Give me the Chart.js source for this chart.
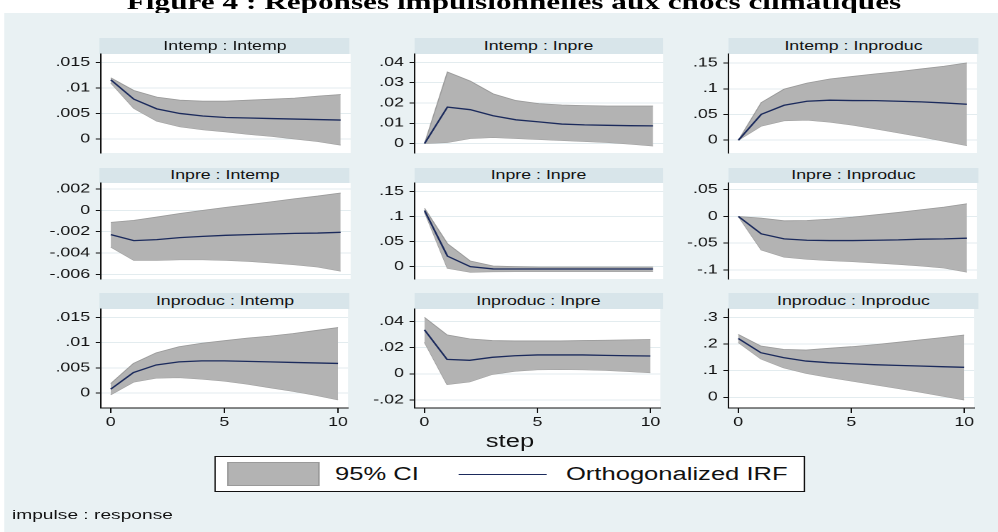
<!DOCTYPE html>
<html><head><meta charset="utf-8">
<script src="https://cdn.jsdelivr.net/npm/chart.js@4.4.1/dist/chart.umd.min.js"></script>
<style>
html,body{margin:0;padding:0;background:#fff;overflow:hidden;width:998px;height:532px;}
#inner{position:absolute;left:0;top:0;height:532px;transform-origin:0 0;}
#inner div,#inner canvas{position:absolute;}
.txt{font-family:"Liberation Sans",Arial,sans-serif;color:#111;white-space:nowrap;}
</style>
</head><body>
<div id="inner"></div>
<script>
// ---------- data ----------
const steps = [0,1,2,3,4,5,6,7,8,9,10];
const xTicks = [0,5,10];

const irf_temp_temp = [0.0116,0.0078,0.0059,0.0050,0.0045,0.0042,0.0041,0.0040,0.0039,0.0038,0.0037];
const hi_temp_temp  = [0.0120,0.0095,0.0082,0.0076,0.0074,0.0074,0.0076,0.0078,0.0080,0.0084,0.0087];
const lo_temp_temp  = [0.0110,0.0060,0.0035,0.0024,0.0018,0.0014,0.0009,0.0005,0.0000,-0.0005,-0.0012];

const irf_temp_pre = [0,0.0180,0.0167,0.0137,0.0117,0.0107,0.0096,0.0092,0.0090,0.0088,0.0087];
const hi_temp_pre  = [0,0.0353,0.0308,0.0245,0.0212,0.0197,0.0190,0.0187,0.0185,0.0185,0.0185];
const lo_temp_pre  = [0,0.0005,0.0025,0.0030,0.0025,0.0020,0.0015,0.0010,0.0005,-0.0003,-0.0012];

const irf_temp_produc = [0,0.0503,0.0680,0.0758,0.0778,0.0771,0.0770,0.0758,0.0745,0.0725,0.0700];
const hi_temp_produc  = [0,0.0732,0.0993,0.1110,0.1190,0.1240,0.1290,0.1333,0.1386,0.1438,0.1503];
const lo_temp_produc  = [0,0.0275,0.0380,0.0392,0.0353,0.0294,0.0222,0.0144,0.0065,-0.0020,-0.0105];

const irf_pre_temp = [-0.00228,-0.00284,-0.00275,-0.00256,-0.00244,-0.00234,-0.00228,-0.00222,-0.00216,-0.00213,-0.00206];
const hi_pre_temp  = [-0.00113,-0.00094,-0.00063,-0.00030,0.00000,0.00028,0.00053,0.00081,0.00109,0.00134,0.00163];
const lo_pre_temp  = [-0.00344,-0.00469,-0.00469,-0.00463,-0.00463,-0.00469,-0.00478,-0.00494,-0.00510,-0.00531,-0.00570];

const irf_pre_pre = [0.1118,0.0210,0.0000,-0.0045,-0.0046,-0.0046,-0.0046,-0.0046,-0.0046,-0.0046,-0.0046];
const hi_pre_pre  = [0.1164,0.0460,0.0112,0.0013,0.0000,-0.0007,-0.0007,-0.0007,-0.0007,-0.0007,-0.0007];
const lo_pre_pre  = [0.1086,-0.0033,-0.0110,-0.0100,-0.0099,-0.0099,-0.0099,-0.0099,-0.0099,-0.0099,-0.0099];

const irf_pre_produc = [0,-0.0325,-0.0419,-0.0444,-0.0450,-0.0450,-0.0444,-0.0438,-0.0425,-0.0419,-0.0406];
const hi_pre_produc  = [0,-0.0031,-0.0081,-0.0075,-0.0050,-0.0013,0.0031,0.0075,0.0125,0.0175,0.0238];
const lo_pre_produc  = [0,-0.0625,-0.0760,-0.0800,-0.0825,-0.0844,-0.0869,-0.0894,-0.0925,-0.0963,-0.1040];

const irf_produc_temp = [0.0008,0.0041,0.0056,0.0062,0.0064,0.0064,0.0063,0.0062,0.0061,0.0060,0.0059];
const hi_produc_temp  = [0.0019,0.0059,0.0080,0.0092,0.0099,0.0104,0.0109,0.0113,0.0118,0.0124,0.0130];
const lo_produc_temp  = [-0.0003,0.0022,0.0030,0.0031,0.0028,0.0024,0.0018,0.0011,0.0004,-0.0004,-0.0013];

const irf_produc_pre = [0.0336,0.0110,0.0103,0.0126,0.0138,0.0144,0.0144,0.0144,0.0141,0.0138,0.0136];
const hi_produc_pre  = [0.0431,0.0297,0.0267,0.0254,0.0251,0.0251,0.0251,0.0254,0.0256,0.0259,0.0262];
const lo_produc_pre  = [0.0241,-0.0082,-0.0062,-0.0005,0.0020,0.0031,0.0033,0.0031,0.0026,0.0018,0.0008];

const irf_produc_produc = [0.221,0.1675,0.149,0.136,0.130,0.126,0.1225,0.120,0.1175,0.115,0.1125];
const hi_produc_produc  = [0.236,0.1925,0.180,0.1775,0.184,0.190,0.1975,0.206,0.215,0.224,0.234];
const lo_produc_produc  = [0.206,0.144,0.111,0.090,0.075,0.061,0.0475,0.034,0.020,0.005,-0.010];

const ticks_temp_temp = [0,0.005,0.01,0.015];
const ticks_temp_pre = [0,0.01,0.02,0.03,0.04];
const ticks_temp_produc = [0,0.05,0.1,0.15];
const ticks_pre_temp = [-0.006,-0.004,-0.002,0,0.002];
const ticks_pre_pre = [0,0.05,0.1,0.15];
const ticks_pre_produc = [-0.1,-0.05,0,0.05];
const ticks_produc_temp = [0,0.005,0.01,0.015];
const ticks_produc_pre = [-0.02,0,0.02,0.04];
const ticks_produc_produc = [0,0.1,0.2,0.3];

const titleText = "Figure 4 : Réponses impulsionnelles aux chocs climatiques";
const xTitle = "step";
const legendLabels = ["95% CI","Orthogonalized IRF"];
const noteText = "impulse : response";

// ---------- layout ----------
const S = 1.42; // horizontal stretch of the original picture
const inner = document.getElementById('inner');
inner.style.width = (998/S)+'px';
inner.style.transform = 'scaleX('+S+')';

const C_BG = '#e9f1f3', C_HEAD = '#d8e5ea', C_BAND = '#b3b3b3', C_BANDLINE = '#9a9a9a', C_IRF = '#1b2a5c';

function el(tag, x, y, w, h, css, text){
  const d = document.createElement(tag);
  d.style.left = (x/S)+'px'; d.style.top = y+'px';
  if (w!=null) d.style.width = (w/S)+'px';
  if (h!=null) d.style.height = h+'px';
  if (css) d.style.cssText += css;
  if (text!=null) d.textContent = text;
  inner.appendChild(d);
  return d;
}

el('div',20,-10,988,24,'font-family:"Liberation Serif","Times New Roman",serif;font-weight:bold;font-size:22px;line-height:24px;text-align:center;color:#000;white-space:nowrap;',titleText);
el('div',4,13,994,519,'background:'+C_BG+';');

const panels = [
 {t:'Intemp : Intemp', irf:irf_temp_temp, hi:hi_temp_temp, lo:lo_temp_temp, ticks:ticks_temp_temp, min:-0.00276, max:0.01666, r:0, c:0},
 {t:'Intemp : Inpre', irf:irf_temp_pre, hi:hi_temp_pre, lo:lo_temp_pre, ticks:ticks_temp_pre, min:-0.00467, max:0.04417, r:0, c:1},
 {t:'Intemp : Inproduc', irf:irf_temp_produc, hi:hi_temp_produc, lo:lo_temp_produc, ticks:ticks_temp_produc, min:-0.0248, max:0.1676, r:0, c:2},
 {t:'Inpre : Intemp', irf:irf_pre_temp, hi:hi_pre_temp, lo:lo_pre_temp, ticks:ticks_pre_temp, min:-0.00644, max:0.002565, r:1, c:0},
 {t:'Inpre : Inpre', irf:irf_pre_pre, hi:hi_pre_pre, lo:lo_pre_pre, ticks:ticks_pre_pre, min:-0.0246, max:0.1668, r:1, c:1},
 {t:'Inpre : Inproduc', irf:irf_pre_produc, hi:hi_pre_produc, lo:lo_pre_produc, ticks:ticks_pre_produc, min:-0.1169, max:0.06256, r:1, c:2},
 {t:'Inproduc : Intemp', irf:irf_produc_temp, hi:hi_produc_temp, lo:lo_produc_temp, ticks:ticks_produc_temp, min:-0.00292, max:0.01667, r:2, c:0},
 {t:'Inproduc : Inpre', irf:irf_produc_pre, hi:hi_produc_pre, lo:lo_produc_pre, ticks:ticks_produc_pre, min:-0.02613, max:0.0495, r:2, c:1},
 {t:'Inproduc : Inproduc', irf:irf_produc_produc, hi:hi_produc_produc, lo:lo_produc_produc, ticks:ticks_produc_produc, min:-0.0403, max:0.3317, r:2, c:2}
];
const COLS = [{axis:100,right:350},{axis:414,right:663},{axis:729,right:978}];
const ROWS = [{head:38,top:54,bottom:153},{head:168,top:183,bottom:279},{head:293,top:309,bottom:408}];
const LEFTW = 95, PAD = 12, XAXH = 28;

function fmt(v){
  if (Math.abs(v) < 1e-12) return '0';
  let s = String(+v.toFixed(6));
  return s.replace(/^(-?)0\./,'$1.');
}

const plotBg = { id:'plotBg', beforeDraw(chart){
  const {ctx, chartArea:a} = chart; ctx.save(); ctx.fillStyle = '#fff';
  ctx.fillRect(a.left, a.top, a.right-a.left, a.bottom-a.top); ctx.restore(); } };

Chart.defaults.font.family = '"Liberation Sans", Arial, sans-serif';

panels.forEach(p => {
  const col = COLS[p.c], row = ROWS[p.r];
  const last = p.r === 2;
  el('div', col.axis, row.head, col.right-col.axis, row.top-row.head,
     'background:'+C_HEAD+';font-size:12.5px;line-height:'+(row.top-row.head)+'px;text-align:center;', p.t).className='txt';
  const cv = document.createElement('canvas');
  const wL = Math.round((col.right - col.axis + LEFTW)/S);
  const h = PAD + (row.bottom-row.top) + (last ? XAXH : PAD);
  cv.width = wL; cv.height = h;
  cv.style.left = ((col.axis-LEFTW)/S)+'px'; cv.style.top = (row.top-PAD)+'px';
  inner.appendChild(cv);
  const pts = arr => steps.map((s,i)=>({x:s, y:arr[i]}));
  new Chart(cv, {
    type:'line',
    data:{datasets:[
      {label:legendLabels[1], data:pts(p.irf), borderColor:C_IRF, borderWidth:1.3, fill:false, pointRadius:0, tension:0},
      {label:legendLabels[0], data:pts(p.hi), borderColor:C_BANDLINE, borderWidth:0.8, backgroundColor:C_BAND, fill:'+1', pointRadius:0, tension:0},
      {label:'lo', data:pts(p.lo), borderColor:C_BANDLINE, borderWidth:0.8, fill:false, pointRadius:0, tension:0}
    ]},
    options:{
      responsive:false, animation:false, devicePixelRatio:2, events:[],
      layout:{padding:{top:PAD, bottom: last?0:PAD, left:0, right:0}},
      plugins:{legend:{display:false}, tooltip:{enabled:false}, title:{display:false}},
      scales:{
        x:{type:'linear', min:-0.44, max:10.44, display:last,
           afterBuildTicks: sc => { sc.ticks = xTicks.map(v=>({value:v})); },
           afterFit: sc => { if (last) sc.height = XAXH; },
           grid:{drawOnChartArea:false, drawTicks:true, tickLength:5, tickColor:'#111', color:'#111'},
           border:{display:true, color:'#111', width:1},
           ticks:{padding:2, font:{size:12.5}, color:'#111', maxRotation:0, autoSkip:false, callback:v=>String(v)}
        },
        y:{type:'linear', min:p.min, max:p.max,
           afterBuildTicks: sc => { sc.ticks = p.ticks.map(v=>({value:v})); },
           afterFit: sc => { sc.width = LEFTW/S; },
           grid:{color:'#e3ecef', lineWidth:1, tickColor:'#111', tickLength:3.5, drawTicks:true},
           border:{display:true, color:'#111', width:1},
           ticks:{padding:4, font:{size:12.5}, color:'#111', autoSkip:false, callback:v=>fmt(v)}
        }
      }
    },
    plugins:[plotBg]
  });
});

// axis title
el('div', 460, 430, 100, 22, 'font-size:18px;line-height:22px;text-align:center;', xTitle).className='txt';
// legend
el('div', 215, 456, 590, 36, 'background:#fff;border:1px solid #111;box-sizing:border-box;');
el('div', 227, 462, 93, 24, 'background:'+C_BAND+';border:1px solid '+C_BANDLINE+';box-sizing:border-box;');
el('div', 335, 462, 110, 24, 'font-size:18px;line-height:24px;', legendLabels[0]).className='txt';
el('div', 459, 473.5, 88, 1.4, 'background:'+C_IRF+';');
el('div', 566, 462, 240, 24, 'font-size:18px;line-height:24px;', legendLabels[1]).className='txt';
// note
el('div', 12, 506, 200, 18, 'font-size:13.5px;line-height:18px;', noteText).className='txt';
</script>
</body></html>
